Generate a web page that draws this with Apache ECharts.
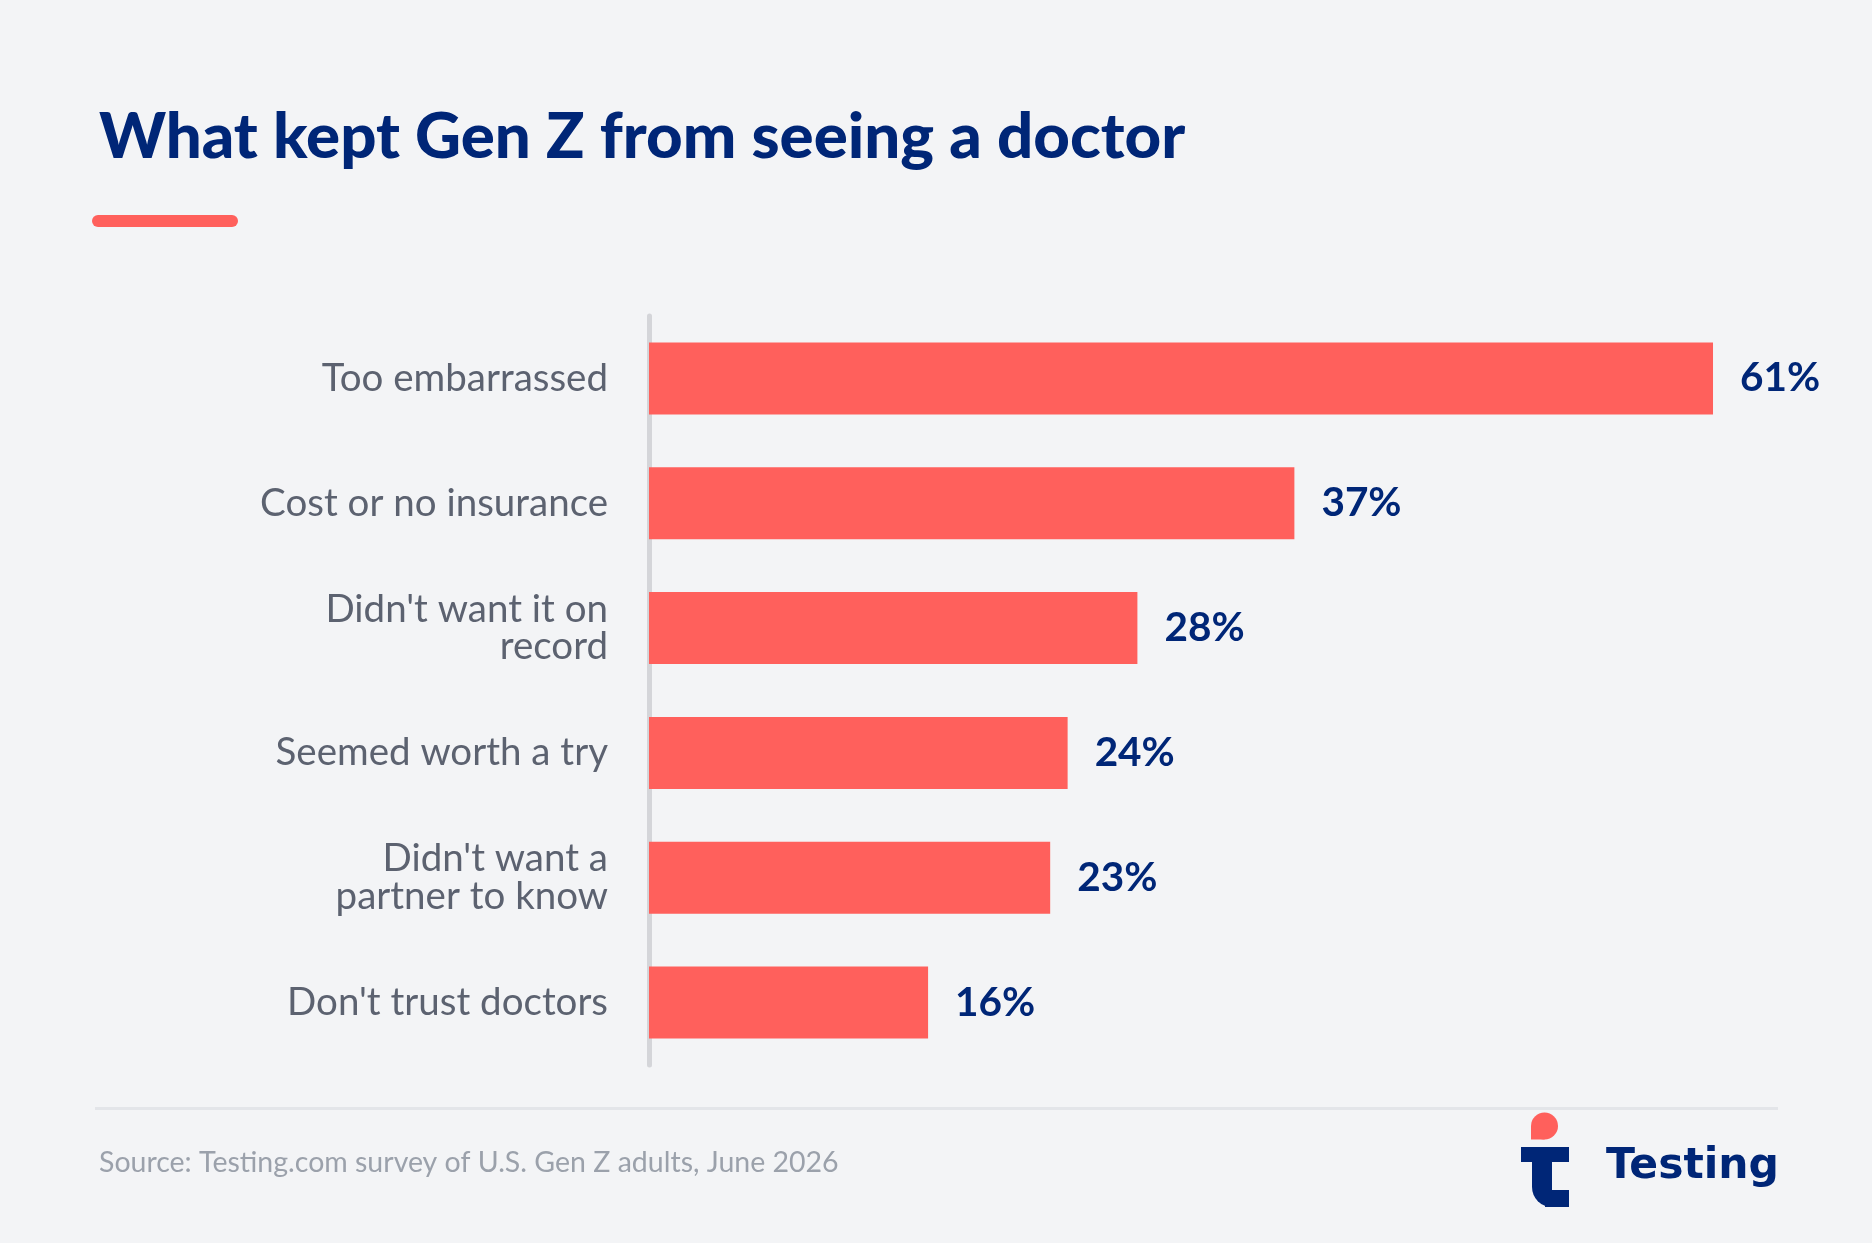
<!DOCTYPE html>
<html>
<head>
<meta charset="utf-8">
<script src="https://cdn.jsdelivr.net/npm/echarts@6/dist/echarts.min.js"></script>
<style>
  html, body { margin: 0; padding: 0; background: #f3f4f6; }
  #chart { width: 1872px; height: 1243px; }
</style>
</head>
<body>
<div id="chart"></div>
<script>
// survey answers, top to bottom
var categories = [
  'Too embarrassed',
  'Cost or no insurance',
  "Didn't want it on\nrecord",
  'Seemed worth a try',
  "Didn't want a\npartner to know",
  "Don't trust doctors"
];
var values = [61, 37, 28, 24, 23, 16];

var navy = '#002677';
var coral = '#ff605c';

var chart = echarts.init(document.getElementById('chart'));

var option = {
  backgroundColor: '#f3f4f6',
  animation: false,
  title: [
    {
      text: 'What kept Gen Z from seeing a doctor',
      left: 94,
      top: 100,
      textStyle: {
        fontFamily: 'Lato',
        fontWeight: 900,
        fontSize: 63.6,
        color: navy
      }
    },
    {
      text: 'Source: Testing.com survey of U.S. Gen Z adults, June 2026',
      left: 94,
      top: 1143,
      textStyle: {
        fontFamily: 'Lato',
        fontWeight: 'normal',
        fontSize: 28.5,
        color: '#9ba1ab'
      }
    }
  ],
  grid: {
    left: 649,
    right: 2,
    top: 316,
    height: 749
  },
  xAxis: {
    type: 'value',
    min: 0,
    max: 70,
    show: false
  },
  yAxis: {
    type: 'category',
    inverse: true,
    data: categories,
    offset: 2.5,
    axisLine: { show: true, lineStyle: { color: '#d4d5d9', width: 5 } },
    axisTick: { show: false },
    axisLabel: {
      margin: 38.5,
      fontFamily: 'Lato',
      fontSize: 38.5,
      lineHeight: 37.5,
      color: '#5c6270',
      align: 'right'
    }
  },
  series: [{
    type: 'bar',
    data: values,
    barWidth: 72,
    itemStyle: { color: coral },
    label: {
      show: true,
      position: 'right',
      distance: 27,
      formatter: '{c}%',
      fontFamily: 'Lato',
      fontWeight: 'bold',
      fontSize: 40.5,
      color: navy
    }
  }],
  graphic: [
    // accent under the title
    { type: 'rect', shape: { x: 92, y: 215, width: 146, height: 12, r: 6 }, style: { fill: coral } },
    // footer rule
    { type: 'rect', shape: { x: 95, y: 1107, width: 1683, height: 3 }, style: { fill: '#e3e5e9' } },
    // logo mark: a "t" with a drop on top
    { type: 'rect', shape: { x: 1521, y: 1147, width: 48, height: 15 }, style: { fill: navy } },
    { type: 'rect', shape: { x: 1532, y: 1147, width: 20, height: 60, r: [0, 0, 0, 20] }, style: { fill: navy } },
    { type: 'rect', shape: { x: 1545, y: 1190, width: 24, height: 17 }, style: { fill: navy } },
    { type: 'circle', shape: { cx: 1544.5, cy: 1126, r: 13.5 }, style: { fill: coral } },
    { type: 'rect', shape: { x: 1531, y: 1126, width: 13.5, height: 13.5 }, style: { fill: coral } },
    {
      type: 'text', left: 1606, top: 1145,
      style: { text: 'Testing', font: 'bold 42.5px "DejaVu Sans"', fill: navy }
    }
  ]
};

chart.setOption(option);
</script>
</body>
</html>
